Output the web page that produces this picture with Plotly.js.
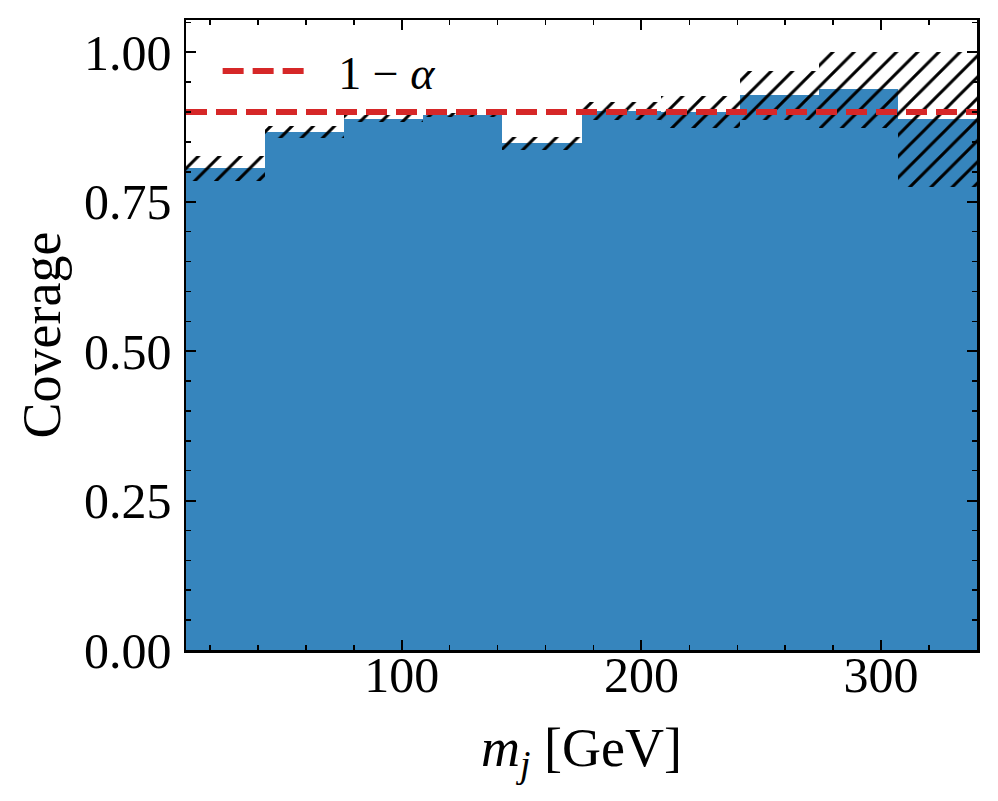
<!DOCTYPE html>
<html>
<head>
<meta charset="utf-8">
<script src="https://cdn.plot.ly/plotly-3.0.1.min.js"></script>
<style>
  html, body { margin: 0; padding: 0; background: #fff; }
  #plot { width: 998px; height: 801px; }
</style>
</head>
<body>
<div id="plot"></div>
<script>
// bin edges of m_j [GeV]
const binEdges = [10, 43, 76, 109, 142, 175, 208, 241, 274, 307, 340];
// coverage per bin, with lower / upper ends of the hatched band
const coverage = [0.806, 0.866, 0.889, 0.895, 0.848, 0.902, 0.900, 0.928, 0.939, 0.888];
const covLow   = [0.784, 0.856, 0.883, 0.891, 0.837, 0.887, 0.873, 0.887, 0.874, 0.775];
const covHigh  = [0.827, 0.877, 0.895, 0.899, 0.858, 0.917, 0.927, 0.969, 1.000, 1.000];
const target = 0.9; // 1 - alpha
const xRange = [10, 340];

const centers = [], widths = [], bandSize = [];
for (let i = 0; i < coverage.length; i++) {
    centers.push((binEdges[i] + binEdges[i + 1]) / 2);
    widths.push(binEdges[i + 1] - binEdges[i]);
    bandSize.push(covHigh[i] - covLow[i]);
}

const font = 'Liberation Serif, Times New Roman, serif';

const bars = {
    type: 'bar',
    x: centers,
    y: coverage,
    width: widths,
    marker: { color: 'rgb(54,133,189)', line: { width: 0 } },
    showlegend: false,
    hoverinfo: 'skip'
};

// hatched uncertainty band
const band = {
    type: 'bar',
    x: centers,
    y: bandSize,
    base: covLow,
    width: widths,
    marker: {
        color: 'rgba(0,0,0,0)',
        line: { width: 0 },
        pattern: { shape: '/', fgcolor: 'black', fgopacity: 1, bgcolor: 'rgba(0,0,0,0)', size: 15, solidity: 0.2, fillmode: 'overlay' }
    },
    showlegend: false,
    hoverinfo: 'skip'
};

const line = {
    type: 'scatter',
    mode: 'lines',
    x: xRange,
    y: [target, target],
    name: '\u00a0\u20091 − <i>α</i>',
    line: { color: 'rgb(214,39,40)', width: 6, dash: '21px,9px' },
    cliponaxis: true
};

const layout = {
    width: 998,
    height: 801,
    margin: { l: 186, r: 21, t: 20, b: 151, pad: 0 },
    paper_bgcolor: 'white',
    plot_bgcolor: 'white',
    barmode: 'overlay',
    bargap: 0,
    font: { family: font, color: 'black' },
    showlegend: true,
    legend: {
        x: 0.04, y: 0.977, xanchor: 'left', yanchor: 'top',
        bgcolor: 'rgba(255,255,255,0)',
        borderwidth: 0,
        itemwidth: 90,
        font: { family: font, size: 46, color: 'black' }
    },
    xaxis: {
        range: xRange,
        tick0: 0,
        dtick: 100,
        ticks: 'inside',
        ticklen: 10,
        tickwidth: 2,
        tickcolor: 'black',
        minor: { dtick: 20, ticks: 'inside', ticklen: 5, tickwidth: 1.5, tickcolor: 'black' },
        mirror: 'allticks',
        showline: true,
        linewidth: 2.5,
        linecolor: 'black',
        showgrid: false,
        zeroline: false,
        tickfont: { family: font, size: 50 },
        ticklabelstandoff: -21,
        title: { text: '<i>m</i><sub><i>j</i></sub> [GeV]', font: { family: font, size: 54 }, standoff: 27 }
    },
    yaxis: {
        range: [0, 1.054],
        tick0: 0,
        dtick: 0.25,
        tickformat: '.2f',
        ticks: 'inside',
        ticklen: 10,
        tickwidth: 2,
        tickcolor: 'black',
        minor: { dtick: 0.05, ticks: 'inside', ticklen: 5, tickwidth: 1.5, tickcolor: 'black' },
        mirror: 'allticks',
        showline: true,
        linewidth: 2.5,
        linecolor: 'black',
        showgrid: false,
        zeroline: false,
        tickfont: { family: font, size: 50 },
        ticklabelstandoff: 2,
        title: { text: 'Coverage', font: { family: font, size: 54 }, standoff: 6 }
    }
};

Plotly.newPlot('plot', [bars, band, line], layout, { displayModeBar: false, staticPlot: true });
</script>
</body>
</html>
